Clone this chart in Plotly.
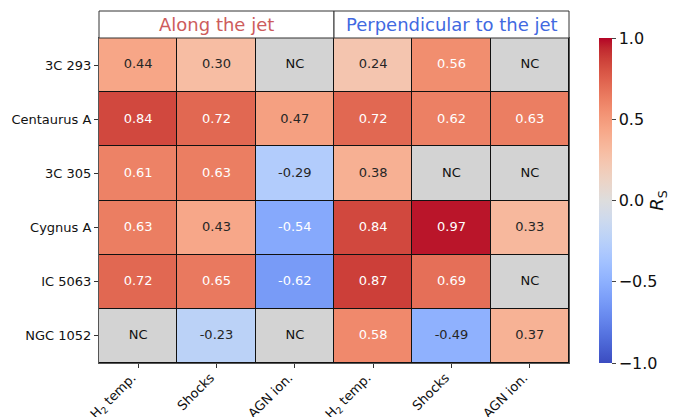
import plotly.graph_objects as go

sources = ["3C 293", "Centaurus A", "3C 305", "Cygnus A", "IC 5063", "NGC 1052"]
tracers = ["H<sub>2</sub> temp.", "Shocks", "AGN ion.", "H<sub>2</sub> temp.", "Shocks", "AGN ion."]
groups = ["Along the jet", "Perpendicular to the jet"]

# None = NC (not computed)
rs_3c293 = [0.44, 0.30, None, 0.24, 0.56, None]
rs_cena = [0.84, 0.72, 0.47, 0.72, 0.62, 0.63]
rs_3c305 = [0.61, 0.63, -0.29, 0.38, None, None]
rs_cyga = [0.63, 0.43, -0.54, 0.84, 0.97, 0.33]
rs_ic5063 = [0.72, 0.65, -0.62, 0.87, 0.69, None]
rs_ngc1052 = [None, -0.23, None, 0.58, -0.49, 0.37]

z = [rs_3c293, rs_cena, rs_3c305, rs_cyga, rs_ic5063, rs_ngc1052]

coolwarm_rgb = [
    (59, 76, 192), (68, 90, 204), (77, 104, 215), (87, 117, 225), (98, 130, 234),
    (108, 142, 241), (119, 154, 247), (130, 165, 251), (141, 176, 254), (152, 185, 255),
    (163, 194, 255), (174, 201, 253), (184, 208, 249), (194, 213, 244), (204, 217, 238),
    (213, 219, 230), (221, 221, 221), (229, 216, 209), (236, 211, 197), (241, 204, 185),
    (245, 196, 173), (247, 187, 160), (247, 177, 148), (247, 166, 135), (244, 154, 123),
    (241, 141, 111), (236, 127, 99), (229, 112, 88), (222, 96, 77), (213, 80, 66),
    (203, 62, 56), (192, 40, 47), (180, 4, 38),
]
n = len(coolwarm_rgb) - 1
coolwarm = [[i / n, "rgb(%d,%d,%d)" % c] for i, c in enumerate(coolwarm_rgb)]

cols = list(range(len(tracers)))
rows = list(range(len(sources)))

nc_mask = [[1 if v is None else None for v in row] for row in z]

fig = go.Figure()
fig.add_trace(go.Heatmap(
    z=z, x=cols, y=rows, zmin=-1, zmax=1, colorscale=coolwarm,
    xgap=1, ygap=1, hoverinfo="skip",
    colorbar=dict(
        x=1.0616, xanchor="left", xref="paper", y=0.5, yanchor="middle",
        len=1.0, lenmode="fraction", thickness=13, outlinewidth=0,
        xpad=0, ypad=0,
        tickvals=[-1, -0.5, 0, 0.5, 1], tickformat=".1f", ticks="outside",
        ticklen=4, tickfont=dict(size=16, color="#111"),
        title=dict(text="<i>R</i><sub>S</sub>", side="right", font=dict(size=18, color="#111")),
    ),
))
fig.add_trace(go.Heatmap(
    z=nc_mask, x=cols, y=rows, zmin=0, zmax=1,
    colorscale=[[0, "#d3d3d3"], [1, "#d3d3d3"]], showscale=False,
    xgap=1, ygap=1, hoverinfo="skip",
))

tx, ty, tt, tc = [], [], [], []
for r, row in enumerate(z):
    for c, v in enumerate(row):
        tx.append(c)
        ty.append(r)
        if v is None:
            tt.append("NC")
            tc.append("#111111")
        else:
            tt.append("%.2f" % v)
            tc.append("white" if abs(v) > 0.5 else "#262626")

fig.add_trace(go.Scatter(
    x=tx, y=ty, text=tt, mode="text", hoverinfo="skip", showlegend=False,
    textfont=dict(size=13, color=tc, family="DejaVu Sans"),
))

h = 27 / 325
for i, g in enumerate(groups):
    fig.add_shape(type="rect", xref="paper", yref="paper",
                  x0=i * 0.5, x1=(i + 1) * 0.5, y0=1, y1=1 + h,
                  line=dict(color="#333", width=1), fillcolor="white", layer="above")
    fig.add_annotation(xref="paper", yref="paper", x=i * 0.5 + 0.25, y=1 + h / 2,
                       text=g, showarrow=False, xanchor="center", yanchor="middle",
                       font=dict(size=18, color=["#cd5c5c", "#4169e1"][i]))

fig.update_xaxes(
    range=[-0.5, 5.5], tickvals=cols, ticktext=tracers, tickangle=-45,
    ticks="outside", ticklen=4, tickcolor="#333", showgrid=False, zeroline=False,
    showline=True, linecolor="#555", linewidth=1, mirror=True, automargin=False,
    ticklabelshift=-6, ticklabelstandoff=-3,
    tickfont=dict(size=13, color="#111"),
)
fig.update_yaxes(
    range=[5.5, -0.5], tickvals=rows, ticktext=sources,
    ticks="outside", ticklen=4, tickcolor="#333", showgrid=False, zeroline=False,
    showline=True, linecolor="#555", linewidth=1, mirror=True, automargin=False,
    tickfont=dict(size=13, color="#111"),
)
# page body adds an 8px offset, so the figure itself is 8px smaller each way
fig.update_layout(
    width=673, height=409,
    margin=dict(l=91, r=111, t=30, b=54),
    plot_bgcolor="#111", paper_bgcolor="white",
    font=dict(family="DejaVu Sans"),
    showlegend=False,
)

fig.write_html("out.html")
